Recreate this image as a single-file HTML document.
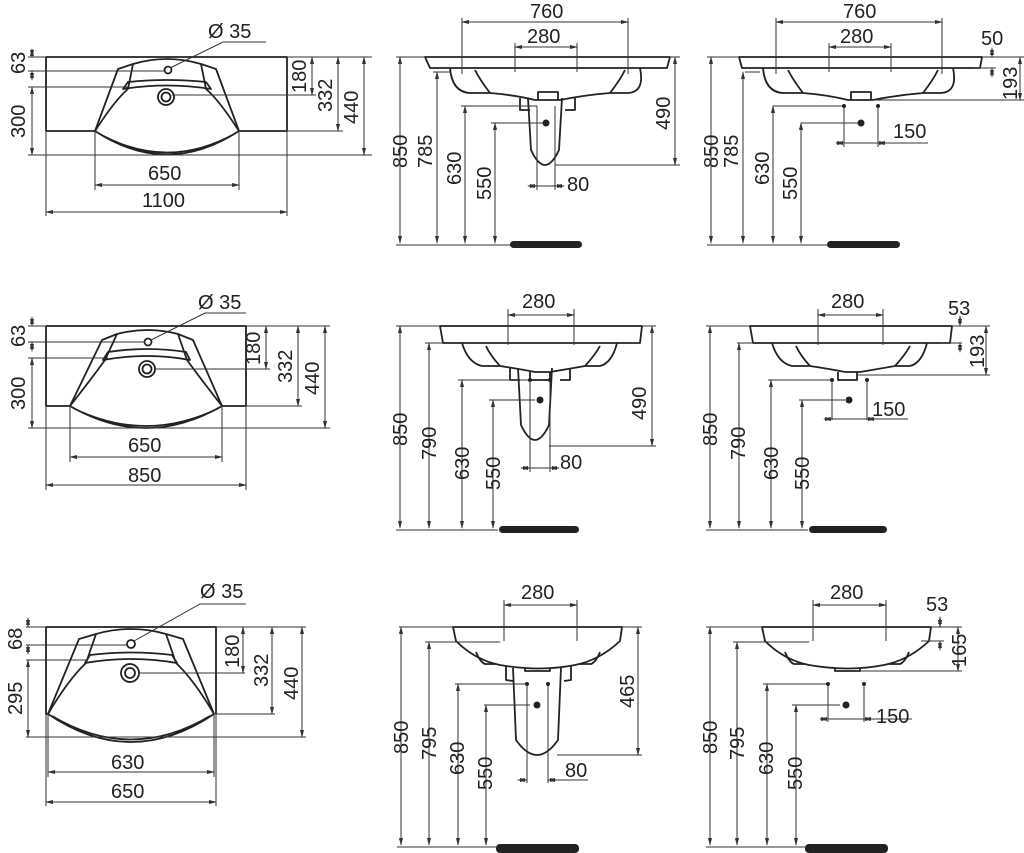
<!DOCTYPE html>
<html><head><meta charset="utf-8"><style>
html,body{margin:0;padding:0;background:#fff;}
svg{display:block;}
text{font-family:"Liberation Sans",sans-serif;font-size:20px;fill:#222;}
.d{stroke:#333;stroke-width:1;fill:none;marker-start:url(#a);marker-end:url(#a);}
.e{stroke:#333;stroke-width:1;fill:none;}
.o{stroke:#222;stroke-width:1.8;fill:none;stroke-linejoin:round;}
.f{stroke:#222;stroke-width:1.8;fill:#fff;stroke-linejoin:round;}
</style></head><body>
<svg width="1024" height="853" viewBox="0 0 1024 853" xmlns="http://www.w3.org/2000/svg">
<defs><marker id="a" viewBox="-4 -2 8 4" markerWidth="8" markerHeight="4" orient="auto-start-reverse" refX="3" refY="0" markerUnits="userSpaceOnUse"><path d="M-4,-2 L4,0 L-4,2 z" fill="#333"/></marker></defs>

<!-- ===== ROW 1 PLAN ===== -->
<path class="o" d="M46,57 L287,57 L287,131 L239,131 M95,131 L46,131 L46,57"/>
<path class="o" d="M95,131 Q167,178 239,131 M98,133 Q167,172 236,133"/>
<path class="o" d="M95,131 L118,69 L133,64 Q167,54 201,64 L216,69 L239,131"/>
<path class="o" d="M95,131 Q115,100 128,89 L133,64 M239,131 Q219,100 206,89 L201,64 M123,89 Q167,82 211,89 L206,82 Q167,78 128,82 Z"/>
<circle cx="168" cy="70" r="3.5" class="o"/>
<circle cx="166" cy="97" r="8" class="o"/><circle cx="166" cy="97" r="4.5" class="o"/>
<path class="e" d="M170,68 L223,42 L266,42"/><text x="208" y="38">Ø 35</text>
<path class="e" d="M28,57 L46,57 M28,71 L164,71 M28,87 L128,87 M28,155 L372,155 M287,57 L372,57 M172,95 L316,95 M287,131 L343,131"/>
<line class="d" x1="32" y1="49" x2="32" y2="57"/><line class="d" x1="32" y1="71" x2="32" y2="80"/>
<line class="d" x1="32" y1="87" x2="32" y2="155"/>
<line class="d" x1="312" y1="57" x2="312" y2="95"/><line class="d" x1="338" y1="57" x2="338" y2="131"/><line class="d" x1="364" y1="57" x2="364" y2="155"/>
<text transform="translate(25,74) rotate(-90)">63</text>
<text transform="translate(25,138) rotate(-90)">300</text>
<text transform="translate(306,93) rotate(-90)">180</text>
<text transform="translate(332,112) rotate(-90)">332</text>
<text transform="translate(358,124) rotate(-90)">440</text>
<path class="e" d="M95,131 L95,190 M239,131 L239,190 M46,131 L46,216 M287,131 L287,216"/>
<line class="d" x1="95" y1="185" x2="239" y2="185"/><line class="d" x1="46" y1="212" x2="287" y2="212"/>
<text x="148" y="180">650</text><text x="142" y="207">1100</text>

<!-- ===== ROW 1 FRONT ===== -->
<g id="f1">
<path class="o" d="M425,57 L670,57 L667,68 L430,68 Z"/>
<path class="o" d="M450,68 Q452,92 470,93 L490,93 Q515,95 535,100 L560,100 Q585,95 610,93 L628,93 Q645,92 640,68"/>
<path class="o" d="M490,93 Q480,80 475,70 M610,93 Q620,80 625,70 M538,100 L538,92 L558,92 L558,100"/>
</g>
<path class="o" d="M520,98 L520,110 L530,110 M575,98 L575,110 L565,110 M528,98 L531,150 Q545,180 559,150 L562,98"/>
<path class="e" d="M462,18 L462,74 M628,18 L628,74 M515,43 L515,72 M577,43 L577,72"/>
<line class="d" x1="462" y1="22" x2="628" y2="22"/><line class="d" x1="515" y1="47" x2="577" y2="47"/>
<text x="530" y="18">760</text><text x="527" y="43">280</text>
<path class="e" d="M396,57 L425,57 M433,72 L450,72 M461,106 L537,106 M491,123 L545,123 M396,245 L512,245 M670,57 L680,57 M555,165 L680,165 M537,106 L537,190 M555,106 L555,190"/>
<line class="d" x1="400" y1="57" x2="400" y2="243"/><line class="d" x1="437" y1="72" x2="437" y2="243"/>
<line class="d" x1="465" y1="106" x2="465" y2="243"/><line class="d" x1="495" y1="123" x2="495" y2="243"/>
<line class="d" x1="675" y1="57" x2="675" y2="165"/>
<line class="d" x1="528" y1="186" x2="537" y2="186"/><line class="d" x1="564" y1="186" x2="555" y2="186"/><line class="e" x1="537" y1="186" x2="555" y2="186"/>
<circle cx="546" cy="123" r="3.5" fill="#222"/>
<text transform="translate(407,168) rotate(-90)">850</text>
<text transform="translate(432,168) rotate(-90)">785</text>
<text transform="translate(461,185) rotate(-90)">630</text>
<text transform="translate(491,200) rotate(-90)">550</text>
<text transform="translate(670,130) rotate(-90)">490</text>
<text x="567" y="191">80</text>
<rect x="510" y="241" width="72" height="7" rx="3.5" fill="#222"/>

<!-- ===== ROW 1 RIGHT ===== -->
<path class="o" d="M739,57 L982,57 L980,68 L742,68 Z"/>
<path class="o" d="M763,68 Q765,92 783,93 L803,93 Q828,95 848,100 L873,100 Q898,95 923,93 L941,93 Q958,92 953,68"/>
<path class="o" d="M803,93 Q793,80 788,70 M923,93 Q933,80 938,70 M851,100 L851,92 L871,92 L871,100"/>
<path class="e" d="M776,18 L776,74 M942,18 L942,74 M829,43 L829,72 M891,43 L891,72"/>
<line class="d" x1="776" y1="22" x2="942" y2="22"/><line class="d" x1="829" y1="47" x2="891" y2="47"/>
<text x="843" y="18">760</text><text x="840" y="43">280</text>
<path class="e" d="M707,57 L739,57 M745,72 L760,72 M773,106 L845,106 M801,123 L858,123 M707,245 L828,245 M982,57 L1024,57 M973,68 L996,68 M871,100 L1024,100 M844,106 L844,147 M878,106 L878,147"/>
<line class="d" x1="711" y1="57" x2="711" y2="243"/><line class="d" x1="743" y1="72" x2="743" y2="243"/>
<line class="d" x1="773" y1="106" x2="773" y2="243"/><line class="d" x1="801" y1="123" x2="801" y2="243"/>
<line class="d" x1="1020" y1="57" x2="1020" y2="100"/>
<line class="d" x1="992" y1="48" x2="992" y2="57"/><line class="d" x1="992" y1="77" x2="992" y2="68"/>
<line class="d" x1="836" y1="143" x2="844" y2="143"/><line class="d" x1="886" y1="143" x2="878" y2="143"/><line class="e" x1="844" y1="143" x2="928" y2="143"/>
<circle cx="844" cy="106" r="2" fill="#222"/><circle cx="878" cy="106" r="2" fill="#222"/><circle cx="861" cy="123" r="3.5" fill="#222"/>
<text transform="translate(718,168) rotate(-90)">850</text>
<text transform="translate(738,168) rotate(-90)">785</text>
<text transform="translate(769,185) rotate(-90)">630</text>
<text transform="translate(797,200) rotate(-90)">550</text>
<text transform="translate(1017,100) rotate(-90)">193</text>
<text x="981" y="45">50</text><text x="893" y="138">150</text>
<rect x="827" y="241" width="73" height="7" rx="3.5" fill="#222"/>

<!-- ===== ROW 2 PLAN ===== -->
<path class="o" d="M46,326 L246,326 L246,406 L222,406 M70,406 L46,406 L46,326"/>
<path class="o" d="M70,406 Q146,450 222,406 M73,408 Q146,444 219,408"/>
<path class="o" d="M70,406 L102,340 L117,334 Q147,326 178,334 L193,340 L222,406"/>
<path class="o" d="M70,406 Q92,378 105,360 L117,334 M222,406 Q200,378 187,360 L178,334 M103,360 Q147,352 190,360 L186,352 Q147,346 108,352 Z"/>
<circle cx="148" cy="342" r="3.5" class="o"/>
<circle cx="147" cy="369" r="8" class="o"/><circle cx="147" cy="369" r="4.5" class="o"/>
<path class="e" d="M151,340 L205,313 L246,313"/><text x="198" y="309">Ø 35</text>
<path class="e" d="M28,326 L46,326 M28,342 L145,342 M28,358 L108,358 M28,428 L330,428 M246,326 L330,326 M155,369 L270,369 M246,406 L302,406"/>
<line class="d" x1="32" y1="317" x2="32" y2="326"/><line class="d" x1="32" y1="342" x2="32" y2="351"/>
<line class="d" x1="32" y1="358" x2="32" y2="428"/>
<line class="d" x1="266" y1="326" x2="266" y2="369"/><line class="d" x1="298" y1="326" x2="298" y2="406"/><line class="d" x1="325" y1="326" x2="325" y2="428"/>
<text transform="translate(25,347) rotate(-90)">63</text>
<text transform="translate(25,410) rotate(-90)">300</text>
<text transform="translate(260,365) rotate(-90)">180</text>
<text transform="translate(292,383) rotate(-90)">332</text>
<text transform="translate(319,395) rotate(-90)">440</text>
<path class="e" d="M70,406 L70,462 M222,406 L222,462 M46,406 L46,490 M246,406 L246,490"/>
<line class="d" x1="70" y1="457" x2="222" y2="457"/><line class="d" x1="46" y1="485" x2="246" y2="485"/>
<text x="128" y="452">650</text><text x="128" y="482">850</text>

<!-- ===== ROW 2 FRONT ===== -->
<path class="o" d="M440,326 L642,326 L640,343 L443,343 Z"/>
<path class="o" d="M462,343 Q468,363 482,366 L500,366 Q520,369 535,372 L550,372 Q568,369 585,366 L600,366 Q612,363 617,343"/>
<path class="o" d="M500,366 Q490,355 486,346 M585,366 Q595,355 600,346 M530,372 L530,380 L550,380 L550,372"/>
<path class="o" d="M510,368 L510,380 L520,380 M570,368 L570,380 L560,380 M518,368 L521,425 Q535,455 549,425 L552,368"/>
<path class="e" d="M508,309 L508,345 M574,309 L574,345"/>
<line class="d" x1="508" y1="315" x2="574" y2="315"/><text x="522" y="308">280</text>
<path class="e" d="M396,326 L440,326 M425,343 L443,343 M458,380 L530,380 M489,400 L535,400 M396,530 L498,530 M642,326 L656,326 M549,446 L656,446 M530,380 L530,472 M550,380 L550,472"/>
<line class="d" x1="400" y1="326" x2="400" y2="528"/><line class="d" x1="429" y1="343" x2="429" y2="528"/>
<line class="d" x1="462" y1="380" x2="462" y2="528"/><line class="d" x1="493" y1="400" x2="493" y2="528"/>
<line class="d" x1="652" y1="326" x2="652" y2="446"/>
<line class="d" x1="521" y1="468" x2="530" y2="468"/><line class="d" x1="559" y1="468" x2="550" y2="468"/><line class="e" x1="530" y1="468" x2="550" y2="468"/>
<circle cx="530" cy="380" r="2" fill="#222"/><circle cx="550" cy="380" r="2" fill="#222"/><circle cx="540" cy="400" r="3.5" fill="#222"/>
<text transform="translate(407,446) rotate(-90)">850</text>
<text transform="translate(436,460) rotate(-90)">790</text>
<text transform="translate(469,480) rotate(-90)">630</text>
<text transform="translate(500,490) rotate(-90)">550</text>
<text transform="translate(646,420) rotate(-90)">490</text>
<text x="560" y="469">80</text>
<rect x="499" y="526" width="80" height="7" rx="3.5" fill="#222"/>

<!-- ===== ROW 2 RIGHT ===== -->
<path class="o" d="M750,326 L952,326 L950,343 L753,343 Z"/>
<path class="o" d="M772,343 Q778,363 792,366 L810,366 Q830,369 845,372 L860,372 Q878,369 895,366 L910,366 Q922,363 927,343"/>
<path class="o" d="M810,366 Q800,355 796,346 M895,366 Q905,355 910,346 M838,372 L838,380 L857,380 L857,372"/>
<path class="e" d="M818,309 L818,345 M883,309 L883,345"/>
<line class="d" x1="818" y1="315" x2="883" y2="315"/><text x="831" y="308">280</text>
<path class="e" d="M706,326 L750,326 M737,343 L753,343 M768,380 L832,380 M799,400 L845,400 M706,530 L808,530 M952,326 L990,326 M940,343 L962,343 M857,375 L990,375 M832,380 L832,420 M867,380 L867,420"/>
<line class="d" x1="710" y1="326" x2="710" y2="528"/><line class="d" x1="739" y1="343" x2="739" y2="528"/>
<line class="d" x1="771" y1="380" x2="771" y2="528"/><line class="d" x1="802" y1="400" x2="802" y2="528"/>
<line class="d" x1="986" y1="326" x2="986" y2="375"/>
<line class="d" x1="960" y1="316" x2="960" y2="326"/><line class="d" x1="960" y1="352" x2="960" y2="343"/>
<line class="d" x1="824" y1="419" x2="832" y2="419"/><line class="d" x1="875" y1="419" x2="867" y2="419"/><line class="e" x1="832" y1="419" x2="908" y2="419"/>
<circle cx="832" cy="380" r="2" fill="#222"/><circle cx="867" cy="380" r="2" fill="#222"/><circle cx="849" cy="400" r="3.5" fill="#222"/>
<text transform="translate(717,446) rotate(-90)">850</text>
<text transform="translate(745,460) rotate(-90)">790</text>
<text transform="translate(778,480) rotate(-90)">630</text>
<text transform="translate(809,490) rotate(-90)">550</text>
<text transform="translate(984,368) rotate(-90)">193</text>
<text x="948" y="315">53</text><text x="872" y="416">150</text>
<rect x="809" y="526" width="78" height="7" rx="3.5" fill="#222"/>

<!-- ===== ROW 3 PLAN ===== -->
<path class="o" d="M46,627 L216,627 L216,714 M48,714 L46,714 L46,627"/>
<path class="o" d="M48,714 Q131,770 214,714 M52,716 Q131,763 210,716"/>
<path class="o" d="M48,714 L79,639 L96,634 Q131,624 166,634 L183,639 L214,714"/>
<path class="o" d="M48,714 Q68,680 86,663 L96,634 M214,714 Q194,680 176,663 L166,634 M85,663 Q131,655 177,663 L172,655 Q131,650 90,655 Z"/>
<circle cx="131" cy="644" r="4" class="o"/>
<circle cx="130" cy="673" r="9" class="o"/><circle cx="130" cy="673" r="5" class="o"/>
<path class="e" d="M134,641 L200,604 L246,604"/><text x="200" y="598">Ø 35</text>
<path class="e" d="M26,627 L46,627 M26,645 L127,645 M26,660 L86,660 M26,737 L306,737 M216,627 L306,627 M139,673 L245,673 M214,714 L275,714"/>
<line class="d" x1="28" y1="618" x2="28" y2="627"/><line class="d" x1="28" y1="645" x2="28" y2="654"/>
<line class="d" x1="28" y1="660" x2="28" y2="737"/>
<line class="d" x1="243" y1="627" x2="243" y2="673"/><line class="d" x1="272" y1="627" x2="272" y2="714"/><line class="d" x1="302" y1="627" x2="302" y2="737"/>
<text transform="translate(22,650) rotate(-90)">68</text>
<text transform="translate(22,715) rotate(-90)">295</text>
<text transform="translate(239,668) rotate(-90)">180</text>
<text transform="translate(268,687) rotate(-90)">332</text>
<text transform="translate(298,700) rotate(-90)">440</text>
<path class="e" d="M48,714 L48,777 M214,714 L214,777 M46,714 L46,806 M216,714 L216,806"/>
<line class="d" x1="48" y1="772" x2="214" y2="772"/><line class="d" x1="46" y1="802" x2="216" y2="802"/>
<text x="111" y="769">630</text><text x="111" y="798">650</text>

<!-- ===== ROW 3 FRONT ===== -->
<path class="o" d="M453,627 L622,627 L620,641 Q600,660 575,665 Q540,672 500,665 Q475,660 456,641 Z"/>
<path class="o" d="M476,652 Q480,662 485,664 L496,664 M600,652 Q596,662 591,664 L580,664 M525,668 L525,671 L550,671 L550,668"/>
<path class="o" d="M506,666 L506,680 L513,681 M571,666 L571,680 L564,681 M513,668 L516,740 Q537,770 558,740 L561,668"/>
<path class="e" d="M504,600 L504,641 M577,600 L577,641"/>
<line class="d" x1="504" y1="605" x2="577" y2="605"/><text x="521" y="599">280</text>
<path class="e" d="M399,627 L453,627 M425,642 L500,642 M455,684 L527,684 M484,705 L530,705 M397,847 L496,847 M622,627 L642,627 M557,755 L642,755 M527,684 L527,783 M548,684 L548,783"/>
<line class="d" x1="401" y1="627" x2="401" y2="845"/><line class="d" x1="429" y1="642" x2="429" y2="845"/>
<line class="d" x1="458" y1="684" x2="458" y2="845"/><line class="d" x1="486" y1="705" x2="486" y2="845"/>
<line class="d" x1="638" y1="627" x2="638" y2="755"/>
<line class="d" x1="518" y1="780" x2="527" y2="780"/><line class="d" x1="557" y1="780" x2="548" y2="780"/><line class="e" x1="548" y1="780" x2="588" y2="780"/>
<circle cx="527" cy="684" r="2" fill="#222"/><circle cx="548" cy="684" r="2" fill="#222"/><circle cx="537" cy="705" r="3.5" fill="#222"/>
<text transform="translate(408,754) rotate(-90)">850</text>
<text transform="translate(436,760) rotate(-90)">795</text>
<text transform="translate(464,775) rotate(-90)">630</text>
<text transform="translate(492,790) rotate(-90)">550</text>
<text transform="translate(634,708) rotate(-90)">465</text>
<text x="565" y="777">80</text>
<rect x="496" y="844" width="83" height="9" rx="4" fill="#222"/>

<!-- ===== ROW 3 RIGHT ===== -->
<path class="o" d="M762,627 L931,627 L929,641 Q909,660 884,665 Q849,672 809,665 Q784,660 765,641 Z"/>
<path class="o" d="M785,652 Q789,662 794,664 L805,664 M909,652 Q905,662 900,664 L889,664 M835,668 L835,671 L860,671 L860,668"/>
<path class="e" d="M813,600 L813,641 M886,600 L886,641"/>
<line class="d" x1="813" y1="605" x2="886" y2="605"/><text x="830" y="599">280</text>
<path class="e" d="M706,627 L762,627 M733,642 L809,642 M763,684 L828,684 M792,705 L840,705 M706,847 L805,847 M931,627 L962,627 M921,641 L944,641 M860,671 L962,671 M828,684 L828,722 M864,684 L864,722"/>
<line class="d" x1="710" y1="627" x2="710" y2="845"/><line class="d" x1="737" y1="642" x2="737" y2="845"/>
<line class="d" x1="767" y1="684" x2="767" y2="845"/><line class="d" x1="796" y1="705" x2="796" y2="845"/>
<line class="d" x1="958" y1="627" x2="958" y2="671"/>
<line class="d" x1="940" y1="617" x2="940" y2="627"/><line class="d" x1="940" y1="650" x2="940" y2="641"/>
<line class="d" x1="820" y1="719" x2="828" y2="719"/><line class="d" x1="872" y1="719" x2="864" y2="719"/><line class="e" x1="828" y1="719" x2="912" y2="719"/>
<circle cx="828" cy="684" r="2" fill="#222"/><circle cx="864" cy="684" r="2" fill="#222"/><circle cx="846" cy="705" r="3.5" fill="#222"/>
<text transform="translate(717,754) rotate(-90)">850</text>
<text transform="translate(744,760) rotate(-90)">795</text>
<text transform="translate(773,775) rotate(-90)">630</text>
<text transform="translate(802,790) rotate(-90)">550</text>
<text transform="translate(966,667) rotate(-90)">165</text>
<text x="926" y="611">53</text><text x="876" y="723">150</text>
<rect x="805" y="844" width="83" height="9" rx="4" fill="#222"/>
</svg>
</body></html>
